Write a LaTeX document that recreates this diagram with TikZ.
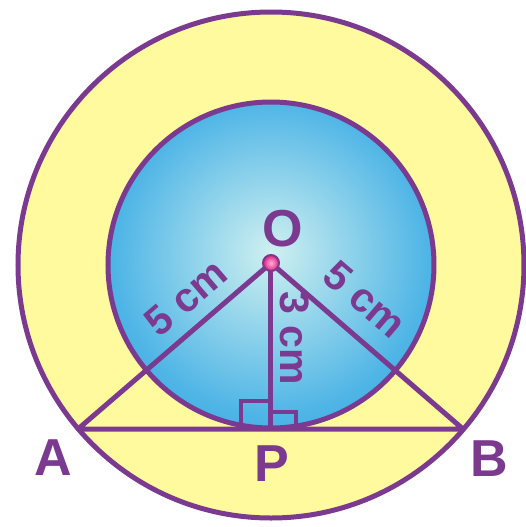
\documentclass[tikz,border=0pt]{standalone}
\usepackage{fontspec}
\setmainfont{Liberation Sans}
\usetikzlibrary{positioning}

\definecolor{rim}{HTML}{7B3A8F}
\definecolor{ringlight}{HTML}{FFFA9E}
\definecolor{ringdark}{HTML}{FFF360}
\definecolor{disclight}{HTML}{CFF0F0}
\definecolor{discmid}{HTML}{4FB5E6}
\definecolor{discdark}{HTML}{0E8DDD}
\definecolor{dotlight}{HTML}{FFB0DA}
\definecolor{dotdark}{HTML}{E0207A}

\pgfdeclareradialshading{yellowring}{\pgfpoint{0bp}{0bp}}{color(0bp)=(ringlight); color(30bp)=(ringlight); color(50bp)=(ringdark)}
\pgfdeclareradialshading{bluedisc}{\pgfpoint{0bp}{2bp}}{color(0bp)=(disclight); color(24bp)=(discmid); color(50bp)=(discdark)}

\begin{document}
\begin{tikzpicture}[x=0.5pt, y=-0.5pt,
    ring/.style={draw=rim, line width=2.5pt},
    tag/.style={text=rim, font=\bfseries\fontsize{26}{26}\selectfont},
    len/.style={text=rim, inner sep=0pt, font=\bfseries\fontsize{20.5}{20.5}\selectfont}]
    \useasboundingbox (0,0) rectangle (526,527);

    % Centre and points on the chord
    \coordinate (C) at (271,265);
    \coordinate (O) at (271,263);
    \coordinate (A) at (78,429);
    \coordinate (B) at (463,429);
    \coordinate (P) at (271,429);

    % Two concentric circles
    \path[ring, shade, shading=yellowring] (C) circle (126.5pt);
    \path[ring, shade, shading=bluedisc] (C) circle (81.5pt);

    % Chord and radii
    \draw[ring, line join=round] (A) -- (O) -- (B) -- cycle;
    \draw[ring] (O) -- (P);

    % Right angle marks at P
    \draw[ring, line width=2pt] (241,429) rectangle (271,401);
    \draw[ring, line width=2pt] (271,429) rectangle (296,412);

    % Centre dot
    \path[draw=rim, line width=1pt, shade, inner color=dotlight, outer color=dotdark] (O) circle (4pt);

    % Labels
    \node[tag] (Olab) at (283,229) {O};
    \node[tag] (Alab) at (53,458) {A};
    \node[tag] (Plab) at (272,464) {P};
    \node[tag] (Blab) at (489,459) {B};
    \node[len, rotate=40.6] (OAlab) at (186,298) {5 cm};
    \node[len, rotate=-40.6] (OBlab) at (365,299) {5 cm};
    \node[len, rotate=-90] (OPlab) at (295,338) {3 cm};
\end{tikzpicture}
\end{document}
